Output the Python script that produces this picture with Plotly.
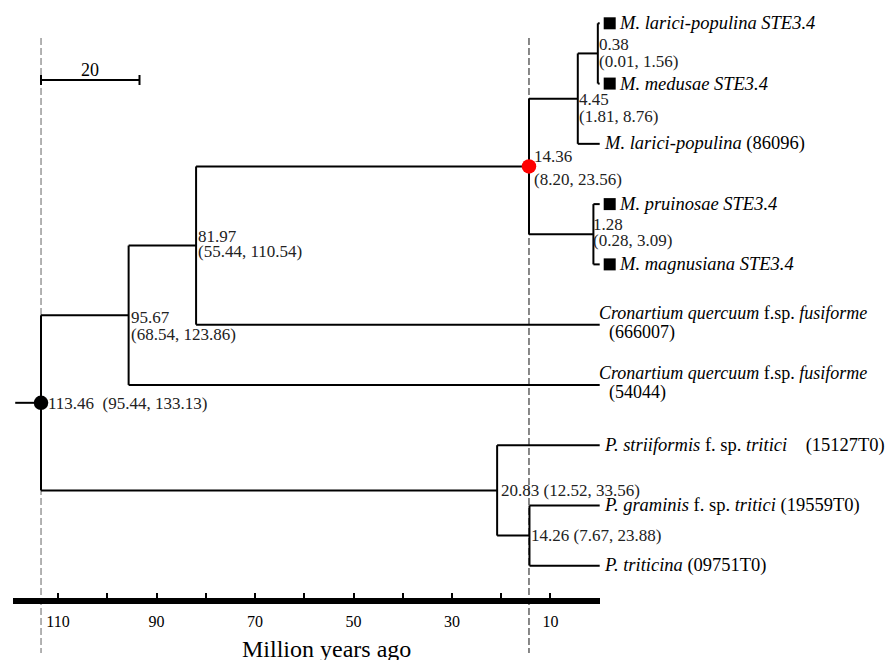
import plotly.graph_objects as go

# ---------------- data ----------------
tip_ids = ["t0", "t1", "t2", "t3", "t4", "t5", "t6", "t7", "t8", "t9"]
tip_ages = [0, 0, 0, 0, 0, 0, 0, 0, 0, 0]
tip_labels = [
    ["<i>M. larici-populina STE3.4</i>"],
    ["<i>M. medusae STE3.4</i>"],
    ["<i>M. larici-populina</i> (86096)"],
    ["<i>M. pruinosae STE3.4</i>"],
    ["<i>M. magnusiana STE3.4</i>"],
    ["<i>Cronartium quercuum</i> f.sp. <i>fusiforme</i>", "(666007)"],
    ["<i>Cronartium quercuum</i> f.sp. <i>fusiforme</i>", "(54044)"],
    ["<i>P. striiformis</i> f. sp. <i>tritici</i>&nbsp;&nbsp;&nbsp;&nbsp;(15127T0)"],
    ["<i>P. graminis</i> f. sp. <i>tritici</i> (19559T0)"],
    ["<i>P. triticina</i> (09751T0)"],
]
tip_ste34 = [True, True, False, True, True, False, False, False, False, False]

node_ids = ["n1", "n2", "n3", "n4", "n5", "n6", "n7", "n8", "root"]
node_ages = [0.38, 4.45, 1.28, 14.36, 81.97, 95.67, 14.26, 20.83, 113.46]
node_ci_low = [0.01, 1.81, 0.28, 8.20, 55.44, 68.54, 7.67, 12.52, 95.44]
node_ci_high = [1.56, 8.76, 3.09, 23.56, 110.54, 123.86, 23.88, 33.56, 133.13]
node_children = [
    ["t0", "t1"], ["n1", "t2"], ["t3", "t4"], ["n2", "n3"], ["n4", "t5"],
    ["n5", "t6"], ["t8", "t9"], ["t7", "n7"], ["n6", "n8"],
]
root_stem_age = 118.7
marked_nodes = {"root": "#000000", "n4": "#ff0000"}   # dotted nodes
dashed_nodes = ["root", "n4"]

axis_tick_values = [110, 100, 90, 80, 70, 60, 50, 40, 30, 20, 10, 0]
axis_tick_labels = ["110", "", "90", "", "70", "", "50", "", "30", "", "10", ""]
axis_title = "Million years ago"
scale_bar_length = 20

# ---------------- geometry / style ----------------
W, H = 894, 660
OFF = 8              # page body margin of the html page
PX_AGE0 = 599.7      # screen pixel x of age 0
PX_PER_MYR = 4.924
PY_TIP0 = 23.3       # screen pixel y of first tip
PY_PER_TIP = 60.27
FONT = "Liberation Serif"
PAD = 3              # annotation inner padding correction

# label offsets in pixels (dx, [dy of each line]) relative to node
node_label_style = {
    "n1": (2, [-9, 8.4]),
    "n2": (2, [0.5, 18]),
    "n3": (0.5, [-9.5, 6.2]),
    "n4": (6.5, [-10, 13.3]),
    "n5": (3, [-9, 6]),
    "n6": (3, [2, 19]),
    "n7": (3, [0]),
    "n8": (4.6, [0]),
    "root": (8, [1]),
}
dash_colors = ["#666666", "#111111"]


def py_to_y(py):
    return (py - PY_TIP0) / PY_PER_TIP


def px_to_age(px):
    return (PX_AGE0 - px) / PX_PER_MYR


# ---------------- tree layout ----------------
age = {t: a for t, a in zip(tip_ids, tip_ages)}
age.update({n: a for n, a in zip(node_ids, node_ages)})
children = dict(zip(node_ids, node_children))
ypos = {t: i for i, t in enumerate(tip_ids)}


def get_y(n):
    if n in ypos:
        return ypos[n]
    ys = [get_y(c) for c in children[n]]
    ypos[n] = sum([min(ys), max(ys)]) / 2
    return ypos[n]


get_y("root")

lx, ly = [], []
for n in node_ids:
    ys = [ypos[c] for c in children[n]]
    lx += [age[n], age[n], None]
    ly += [min(ys), max(ys), None]
    for c in children[n]:
        lx += [age[n], age[c], None]
        ly += [ypos[c], ypos[c], None]
lx += [root_stem_age, age["root"], None]
ly += [ypos["root"], ypos["root"], None]

fig = go.Figure()

# dashed reference lines
for n, col in zip(dashed_nodes, dash_colors):
    fig.add_trace(go.Scatter(
        x=[age[n], age[n]], y=[py_to_y(38), py_to_y(653)], mode="lines",
        line=dict(color=col, width=1, dash="7px,3px"),
        hoverinfo="skip"))

fig.add_trace(go.Scatter(x=lx, y=ly, mode="lines",
                         line=dict(color="black", width=2), hoverinfo="skip"))

# node dots
for n, col in marked_nodes.items():
    fig.add_trace(go.Scatter(x=[age[n]], y=[ypos[n]], mode="markers",
                             marker=dict(color=col, size=14.5, line=dict(width=0)),
                             hoverinfo="skip"))

# STE3.4 squares
sq_off = 10 / PX_PER_MYR
fig.add_trace(go.Scatter(
    x=[a - sq_off for a, s in zip(tip_ages, tip_ste34) if s],
    y=[ypos[t] for t, s in zip(tip_ids, tip_ste34) if s],
    mode="markers", marker=dict(symbol="square", color="black", size=12),
    hoverinfo="skip"))

# scale bar
sb_y = py_to_y(80)
cap = 5 / PY_PER_TIP
sb0 = age["root"]
sb1 = sb0 - scale_bar_length
fig.add_trace(go.Scatter(
    x=[sb0, sb1, None, sb0, sb0, None, sb1, sb1],
    y=[sb_y, sb_y, None, sb_y - cap, sb_y + cap, None, sb_y - cap, sb_y + cap],
    mode="lines", line=dict(color="black", width=2), hoverinfo="skip"))

# dummy trace for timeline axis
fig.add_trace(go.Scatter(x=[0], y=[0], xaxis="x2", yaxis="y", mode="markers",
                         marker=dict(opacity=0), hoverinfo="skip"))

annotations = []


def ann(x, y, text, size, dx=0, dy=0, color="black", xanchor="left"):
    annotations.append(dict(
        x=x, y=y, xref="x", yref="y", text=text, showarrow=False,
        xanchor=xanchor, yanchor="middle",
        xshift=dx - (PAD if xanchor == "left" else 0), yshift=-dy,
        font=dict(family=FONT, size=size, color=color)))


# node labels
for n, lo, hi in zip(node_ids, node_ci_low, node_ci_high):
    dx, dys = node_label_style[n]
    a_txt = f"{age[n]:.2f}"
    ci_txt = f"({lo:.2f}, {hi:.2f})"
    if len(dys) == 2:
        ann(age[n], ypos[n], a_txt, 17, dx, dys[0], "#222222")
        ann(age[n], ypos[n], ci_txt, 17, dx, dys[1], "#222222")
    else:
        sep = "&nbsp;&nbsp;" if n == "root" else " "
        ann(age[n], ypos[n], a_txt + sep + ci_txt, 17, dx, dys[0], "#222222")

# tip labels
for t, a, lab, s in zip(tip_ids, tip_ages, tip_labels, tip_ste34):
    if len(lab) == 2:
        ann(a, ypos[t], lab[0], 18, 0, -12)
        ann(a, ypos[t], lab[1], 18, 10, 8)
    elif s:
        ann(a, ypos[t], lab[0], 18.5, 20, 0)
    else:
        ann(a, ypos[t], lab[0], 18.5, 5, 0)

# scale bar label
ann((sb0 + sb1) / 2, sb_y, str(scale_bar_length), 18, 0, -10, xanchor="center")

# axis title
annotations.append(dict(x=(326.5 - OFF) / W, y=1 - (649 - OFF) / H,
                        xref="paper", yref="paper",
                        text=axis_title, showarrow=False, xanchor="center",
                        yanchor="middle",
                        font=dict(family=FONT, size=24, color="black")))

fig.update_layout(
    width=W, height=H, margin=dict(l=0, r=0, t=0, b=0),
    paper_bgcolor="white", plot_bgcolor="rgba(0,0,0,0)", showlegend=False,
    xaxis=dict(range=[px_to_age(OFF), px_to_age(W + OFF)], visible=False,
               domain=[0, 1]),
    yaxis=dict(range=[py_to_y(H + OFF), py_to_y(OFF)], visible=False,
               domain=[0, 1]),
    xaxis2=dict(domain=[(13.3 - OFF) / W, (PX_AGE0 - OFF) / W],
                range=[px_to_age(13.3), 0],
                anchor="free", position=1 - (601 - OFF) / H, side="bottom",
                showline=True, linewidth=6, linecolor="black",
                ticks="inside", ticklen=5, tickwidth=2, tickcolor="black",
                tickvals=axis_tick_values, ticktext=axis_tick_labels,
                ticklabelstandoff=4,
                tickfont=dict(family=FONT, size=16, color="black"),
                showgrid=False, zeroline=False),
    annotations=annotations,
)

fig.write_html("out.html")
